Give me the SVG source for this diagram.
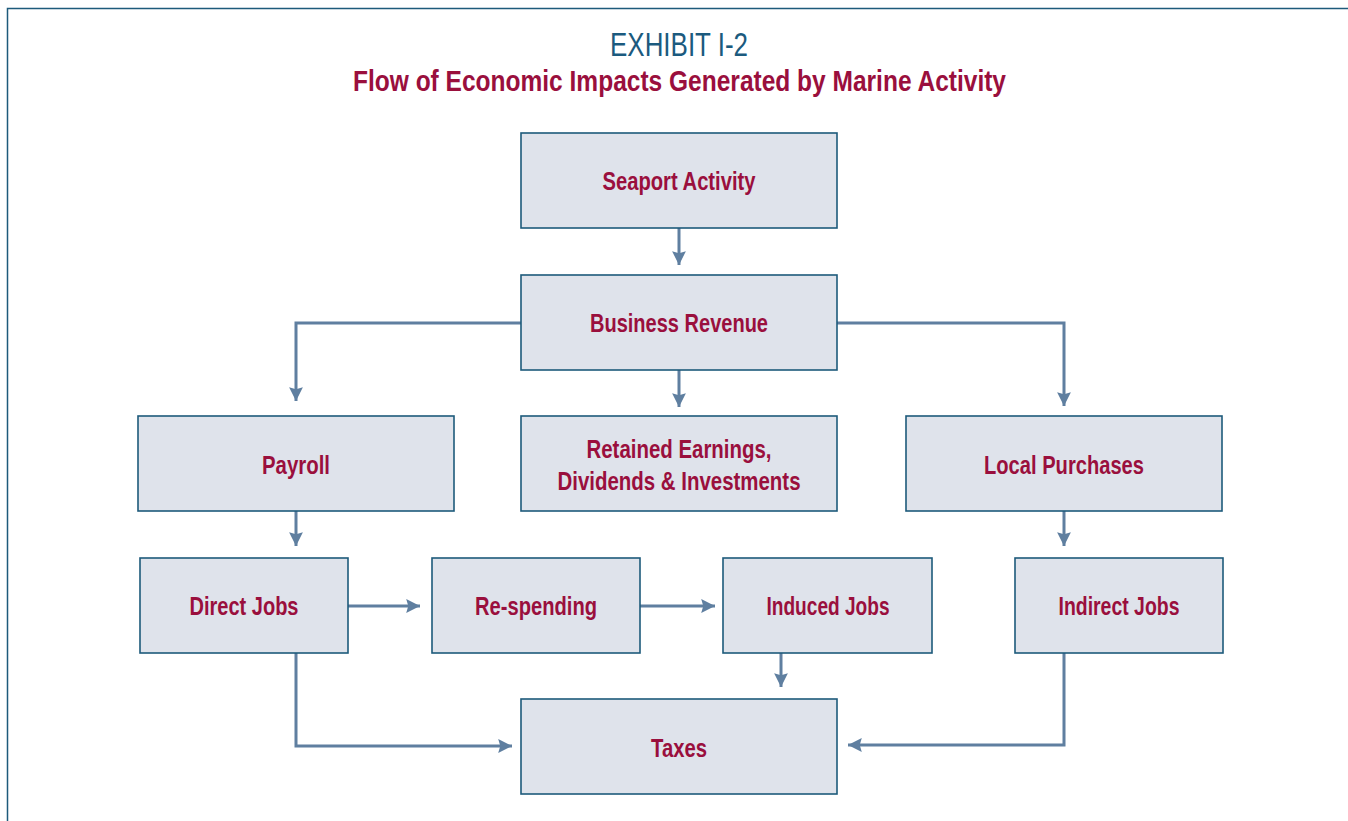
<svg xmlns="http://www.w3.org/2000/svg" width="1348" height="821" viewBox="0 0 1348 821">
<style>
.box{fill:#dfe3eb;stroke:#1d5a7b;stroke-width:1.6}
.lbl{font-family:"Liberation Sans Narrow","Liberation Sans",Arial,sans-serif;font-weight:bold;font-size:25px;fill:#9a0f3d;text-anchor:middle}
.con{fill:none;stroke:#5f7fa0;stroke-width:3}
</style>
<defs>
<marker id="ah" viewBox="0 0 10 10" refX="10" refY="5" markerWidth="6" markerHeight="4.6" markerUnits="strokeWidth" orient="auto">
<path d="M0,0 L10,5 L0,10 L1.5,5 z" fill="#5f7fa0"/>
</marker>
</defs>
<rect width="1348" height="821" fill="#ffffff"/>
<path d="M1348,8.5 H7.5 V821" fill="none" stroke="#1d5a7b" stroke-width="1.5"/>
<text x="679" y="56" font-family="'Liberation Sans Narrow','Liberation Sans',Arial,sans-serif" font-size="34" fill="#1b5a7e" text-anchor="middle" textLength="138" lengthAdjust="spacingAndGlyphs">EXHIBIT I-2</text>
<text x="679.5" y="91" font-family="'Liberation Sans Narrow','Liberation Sans',Arial,sans-serif" font-weight="bold" font-size="30" fill="#9a0f3d" text-anchor="middle" textLength="653" lengthAdjust="spacingAndGlyphs">Flow of Economic Impacts Generated by Marine Activity</text>
<g id="connectors">
<path class="con" marker-end="url(#ah)" d="M679,228 V265"/>
<path class="con" marker-end="url(#ah)" d="M521,323 H296 V401"/>
<path class="con" marker-end="url(#ah)" d="M679,370 V407"/>
<path class="con" marker-end="url(#ah)" d="M837,323 H1064 V406"/>
<path class="con" marker-end="url(#ah)" d="M296,511 V546"/>
<path class="con" marker-end="url(#ah)" d="M1064,511 V546"/>
<path class="con" marker-end="url(#ah)" d="M348,606 H420"/>
<path class="con" marker-end="url(#ah)" d="M640,606 H715"/>
<path class="con" marker-end="url(#ah)" d="M781,653 V687"/>
<path class="con" marker-end="url(#ah)" d="M296,653 V746 H512"/>
<path class="con" marker-end="url(#ah)" d="M1064,653 V745 H848"/>
</g>
<g id="seaport"><rect class="box" x="521" y="133" width="316" height="95"/><text class="lbl" x="679" y="190" textLength="153" lengthAdjust="spacingAndGlyphs">Seaport Activity</text></g>
<g id="revenue"><rect class="box" x="521" y="275" width="316" height="95"/><text class="lbl" x="679" y="332" textLength="178" lengthAdjust="spacingAndGlyphs">Business Revenue</text></g>
<g id="payroll"><rect class="box" x="138" y="416" width="316" height="95"/><text class="lbl" x="296" y="474" textLength="68" lengthAdjust="spacingAndGlyphs">Payroll</text></g>
<g id="retained"><rect class="box" x="521" y="416" width="316" height="95"/><text class="lbl" x="679" y="458" textLength="185" lengthAdjust="spacingAndGlyphs">Retained Earnings,</text><text class="lbl" x="679" y="490" textLength="243" lengthAdjust="spacingAndGlyphs">Dividends &amp; Investments</text></g>
<g id="purchases"><rect class="box" x="906" y="416" width="316" height="95"/><text class="lbl" x="1064" y="474" textLength="160" lengthAdjust="spacingAndGlyphs">Local Purchases</text></g>
<g id="direct"><rect class="box" x="140" y="558" width="208" height="95"/><text class="lbl" x="244" y="615" textLength="109" lengthAdjust="spacingAndGlyphs">Direct Jobs</text></g>
<g id="respending"><rect class="box" x="432" y="558" width="208" height="95"/><text class="lbl" x="536" y="615" textLength="122" lengthAdjust="spacingAndGlyphs">Re-spending</text></g>
<g id="induced"><rect class="box" x="723" y="558" width="209" height="95"/><text class="lbl" x="828" y="615" textLength="123" lengthAdjust="spacingAndGlyphs">Induced Jobs</text></g>
<g id="indirect"><rect class="box" x="1015" y="558" width="208" height="95"/><text class="lbl" x="1119" y="615" textLength="121" lengthAdjust="spacingAndGlyphs">Indirect Jobs</text></g>
<g id="taxes"><rect class="box" x="521" y="699" width="316" height="95"/><text class="lbl" x="679" y="757" textLength="56" lengthAdjust="spacingAndGlyphs">Taxes</text></g>
</svg>
